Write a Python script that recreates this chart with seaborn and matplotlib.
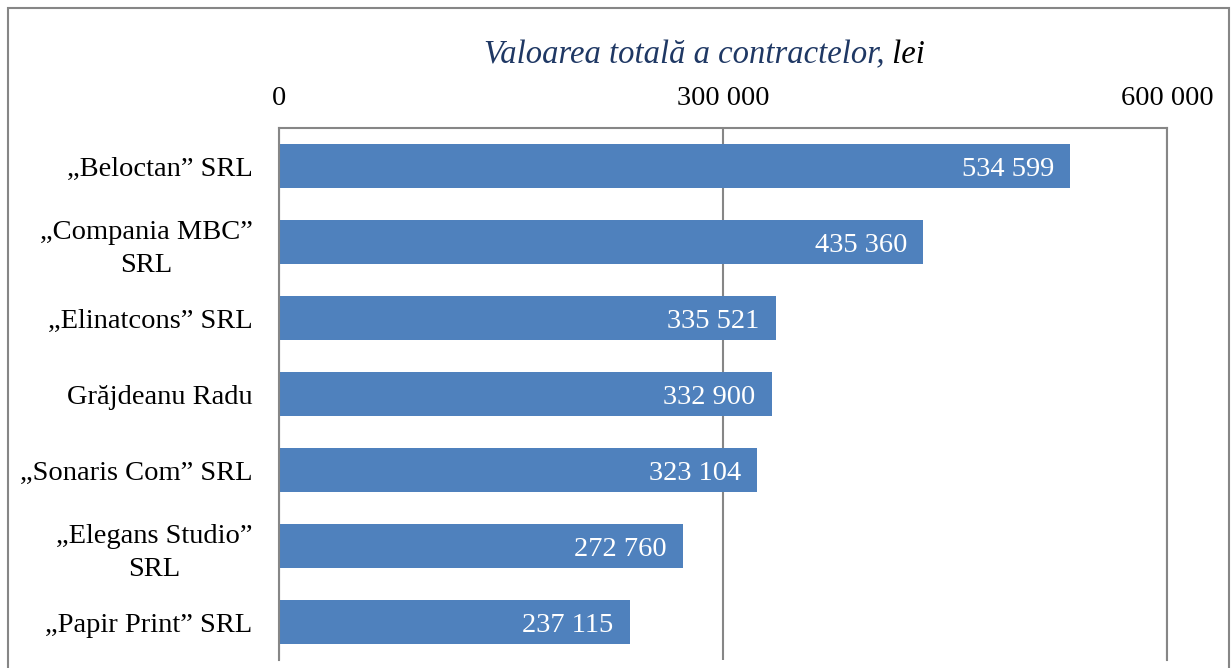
import matplotlib
matplotlib.use("Agg")
import matplotlib.pyplot as plt
import seaborn as sns
import pandas as pd
from matplotlib.patches import Rectangle

companies = ["„Beloctan” SRL", "„Compania MBC”\nSRL", "„Elinatcons” SRL", "Grăjdeanu Radu",
             "„Sonaris Com” SRL", "„Elegans Studio”\nSRL", "„Papir Print” SRL"]
values = [534599, 435360, 335521, 332900, 323104, 272760, 237115]
xticks = [0, 300000, 600000]

sns.set_theme(style="white")
plt.rcParams['font.family'] = ['Liberation Serif', 'DejaVu Serif']

df = pd.DataFrame({"company": companies, "value": values})

fig = plt.figure(figsize=(12.32, 6.68), dpi=100)
ax = fig.add_axes([279/1232, 1-660/668, (1167-279)/1232, (660-128)/668])

sns.barplot(data=df, y="company", x="value", orient="h", color="#4F81BD",
            saturation=1, width=0.57, ax=ax, zorder=3, linewidth=0)

ax.set_xlim(0, 600000)
ax.set_ylim(6.5, -0.5)
ax.xaxis.tick_top()
ax.set_xticks(xticks)
ax.set_xticklabels([f"{t:,}".replace(",", " ") for t in xticks], fontsize=20.5)
ax.tick_params(axis="x", length=0, pad=12, labelcolor="black")
ax.tick_params(axis="y", length=0, pad=19, labelsize=20.5, labelcolor="black")
for lab in ax.get_yticklabels():
    lab.set_horizontalalignment("right")
    lab.set_multialignment("center")
    lab.set_linespacing(1.4)
ax.set_xlabel("")
ax.set_ylabel("")
ax.grid(axis="x", color="#868686", linewidth=1.5, zorder=0)
ax.set_axisbelow(True)
for s in ["top", "left", "right"]:
    ax.spines[s].set_color("#868686")
    ax.spines[s].set_linewidth(1.5)
    ax.spines[s].set_zorder(5)
ax.spines["bottom"].set_visible(False)

for i, v in enumerate(values):
    ax.text(v - 11000, i, f"{v:,}".replace(",", " "), color="white", fontsize=20.5,
            ha="right", va="center_baseline", zorder=4)

fig.text(884/1232, 1-55/668, "Valoarea totală a contractelor,", color="#1F3864",
         fontsize=23.5, style="italic", ha="right", va="center")
fig.text(884/1232, 1-55/668, " lei", color="black", fontsize=23.5, style="italic",
         ha="left", va="center")

fig.patches.append(Rectangle((8/1232, -0.1), (1229-8)/1232, 1.1 - 8/668,
                             transform=fig.transFigure, fill=False,
                             edgecolor="#868686", linewidth=1.5))

fig.savefig("out.png", dpi=100)
